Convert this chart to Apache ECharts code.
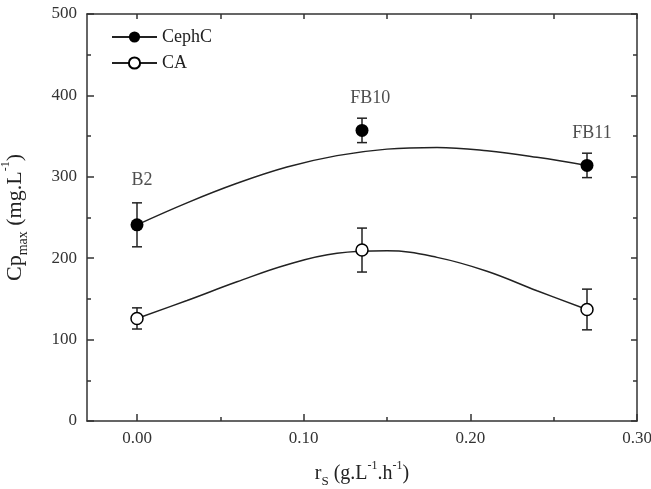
<!DOCTYPE html>
<html>
<head>
<meta charset="UTF-8">
<script src="https://cdn.jsdelivr.net/npm/echarts@6.0.0/dist/echarts.min.js"></script>
<style>
  html, body { margin: 0; background: #fff; }
  #lienzo { width: 651px; height: 489px; }
</style>
</head>
<body>
<div id="lienzo"></div>
<script>
// measured points
const rs = [0, 0.135, 0.27];
const cephc = [241, 357, 314];
const cephcErr = [27, 15, 15];
const ca = [126, 210, 137];
const caErr = [13, 27, 25];

// fitted curves
const fitX = [0, 0.03, 0.06, 0.09, 0.12, 0.15, 0.18, 0.21, 0.24, 0.27];
const fitCephC = [241, 268, 292, 312, 326, 334, 336, 332, 324, 314];
const fitCA = [126, 148, 171, 192, 206, 209, 201, 184, 160, 137];

// run labels
const runNames = ['B2', 'FB10', 'FB11'];
const runLabelX = [0.003, 0.14, 0.273];
const runLabelY = [296, 397, 354];

const xTicks = [0, 0.1, 0.2, 0.3];
const xMinor = [0.05, 0.15, 0.25];

const serif = '"Liberation Serif", "DejaVu Serif", serif';
const ink = '#222';

function errBars(vals, errs) {
  return {
    type: 'custom',
    data: rs.map((x, i) => [x, vals[i] - errs[i], vals[i] + errs[i]]),
    encode: { x: 0, y: [1, 2] },
    renderItem: (params, api) => {
      let lo = api.coord([api.value(0), api.value(1)]);
      let hi = api.coord([api.value(0), api.value(2)]);
      let w = 5;
      let st = { stroke: ink, lineWidth: 1.5 };
      return {
        type: 'group',
        children: [
          { type: 'line', shape: { x1: lo[0], y1: lo[1], x2: hi[0], y2: hi[1] }, style: st },
          { type: 'line', shape: { x1: lo[0] - w, y1: lo[1], x2: lo[0] + w, y2: lo[1] }, style: st },
          { type: 'line', shape: { x1: hi[0] - w, y1: hi[1], x2: hi[0] + w, y2: hi[1] }, style: st }
        ]
      };
    },
    z: 2
  };
}

let axisLine = { show: true, onZero: false, lineStyle: { color: '#333', width: 1.5 } };

let myChart = echarts.init(document.getElementById('lienzo'));
myChart.setOption({
  animation: false,
  grid: { left: 87, right: 14, top: 14, bottom: 68, containLabel: false, outerBoundsMode: 'none' },
  legend: {
    data: ['CephC', 'CA'],
    orient: 'vertical',
    left: 106,
    top: 23,
    itemWidth: 45,
    itemHeight: 14,
    itemGap: 8,
    textStyle: { fontFamily: serif, fontSize: 18, color: ink }
  },
  xAxis: [
    {
      type: 'value', min: -0.03, max: 0.3, position: 'bottom',
      axisLine: axisLine,
      axisTick: { inside: true, length: 7, customValues: xTicks, lineStyle: { color: '#333', width: 1.5 } },
      axisLabel: {
        customValues: xTicks, formatter: v => v.toFixed(2),
        fontFamily: serif, fontSize: 17, color: '#333', margin: 9
      },
      splitLine: { show: false },
      name: '{a|r}{b|S}{a| (g.L}{c|-1}{a|.h}{c|-1}{a|)}',
      nameLocation: 'middle',
      nameGap: 39,
      nameTextStyle: {
        color: ink,
        rich: {
          a: { fontFamily: serif, fontSize: 20, lineHeight: 28, color: ink },
          b: { fontFamily: serif, fontSize: 13, lineHeight: 13, verticalAlign: 'bottom', color: ink },
          c: { fontFamily: serif, fontSize: 12, lineHeight: 12, verticalAlign: 'top', color: ink }
        }
      }
    },
    {
      type: 'value', min: -0.03, max: 0.3, position: 'bottom',
      axisLine: { show: false, onZero: false },
      axisTick: { inside: true, length: 4, customValues: xMinor, lineStyle: { color: '#333', width: 1.5 } },
      axisLabel: { show: false },
      splitLine: { show: false }
    },
    {
      type: 'value', min: -0.03, max: 0.3, position: 'top',
      axisLine: axisLine,
      axisTick: { inside: true, length: 5, customValues: xTicks.concat(xMinor), lineStyle: { color: '#333', width: 1.5 } },
      axisLabel: { show: false },
      splitLine: { show: false }
    }
  ],
  yAxis: [
    {
      type: 'value', min: 0, max: 500, interval: 100, position: 'left',
      axisLine: axisLine,
      axisTick: { inside: true, length: 7, lineStyle: { color: '#333', width: 1.5 } },
      minorTick: { show: true, splitNumber: 2, length: 4, lineStyle: { color: '#333', width: 1.5 } },
      axisLabel: { fontFamily: serif, fontSize: 17, color: '#333', margin: 10 },
      splitLine: { show: false },
      name: '{a|Cp}{b|max}{a| (mg.L}{c|-1}{a|)}',
      nameLocation: 'middle',
      nameRotate: 90,
      nameGap: 57,
      nameTextStyle: {
        color: ink,
        rich: {
          a: { fontFamily: serif, fontSize: 22, lineHeight: 30, color: ink },
          b: { fontFamily: serif, fontSize: 14, lineHeight: 14, verticalAlign: 'bottom', color: ink },
          c: { fontFamily: serif, fontSize: 12, lineHeight: 12, verticalAlign: 'top', color: ink }
        }
      }
    },
    {
      type: 'value', min: 0, max: 500, interval: 100, position: 'right',
      axisLine: axisLine,
      axisTick: { inside: true, length: 6, lineStyle: { color: '#333', width: 1.5 } },
      minorTick: { show: true, splitNumber: 2, length: 4, lineStyle: { color: '#333', width: 1.5 } },
      axisLabel: { show: false },
      splitLine: { show: false }
    }
  ],
  series: [
    {
      name: 'CephC', type: 'line', smooth: 0.4,
      data: fitX.map((x, i) => [x, fitCephC[i]]),
      symbol: 'circle', symbolSize: 12, showSymbol: false,
      lineStyle: { color: ink, width: 1.5 },
      itemStyle: { color: '#000' },
      z: 1
    },
    {
      name: 'CA', type: 'line', smooth: 0.4,
      data: fitX.map((x, i) => [x, fitCA[i]]),
      symbol: 'circle', symbolSize: 11, showSymbol: false,
      lineStyle: { color: ink, width: 1.5 },
      itemStyle: { color: '#fff', borderColor: '#000', borderWidth: 1.5 },
      z: 1
    },
    errBars(cephc, cephcErr),
    errBars(ca, caErr),
    {
      name: 'CephC pts', type: 'scatter',
      data: rs.map((x, i) => [x, cephc[i]]),
      symbol: 'circle', symbolSize: 13,
      itemStyle: { color: '#000', opacity: 1 },
      z: 3
    },
    {
      name: 'CA pts', type: 'scatter',
      data: rs.map((x, i) => [x, ca[i]]),
      symbol: 'circle', symbolSize: 12,
      itemStyle: { color: '#fff', borderColor: '#000', borderWidth: 1.5, opacity: 1 },
      z: 3
    },
    {
      name: 'runs', type: 'scatter', symbolSize: 0,
      data: runNames.map((n, i) => ({ name: n, value: [runLabelX[i], runLabelY[i]] })),
      label: {
        show: true, position: 'inside', formatter: p => p.name,
        fontFamily: serif, fontSize: 18, color: ink, textBorderWidth: 0
      },
      silent: true
    }
  ]
});
</script>
</body>
</html>
